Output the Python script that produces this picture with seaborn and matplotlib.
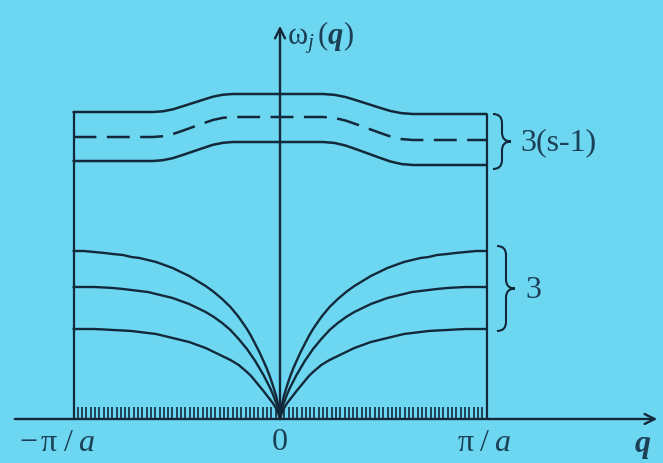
import numpy as np
import pandas as pd
import matplotlib
matplotlib.use("Agg")
import matplotlib.pyplot as plt
import matplotlib.transforms as mtransforms
from matplotlib.path import Path
from matplotlib.patches import PathPatch
import seaborn as sns

# ---------------- data (q in units of pi/a, omega in arbitrary units) ----------------
# acoustic branches, read for q >= 0 (the figure is symmetric about q = 0)
q_acoustic = [0.0, 0.01, 0.02, 0.035, 0.05, 0.065, 0.08, 0.10, 0.12, 0.14, 0.16, 0.20, 0.24, 0.28,
              0.32, 0.36, 0.40, 0.44, 0.48, 0.52, 0.56, 0.60, 0.64, 0.68, 0.72, 0.76, 0.81, 0.85,
              0.90, 0.95, 1.0]
acoustic_top = [0.0, 0.15, 0.24, 0.34, 0.43, 0.51, 0.58, 0.67, 0.75, 0.83, 0.90, 1.02, 1.12, 1.20,
                1.27, 1.33, 1.38, 1.43, 1.47, 1.51, 1.54, 1.57, 1.59, 1.61, 1.62, 1.64, 1.65, 1.66,
                1.67, 1.68, 1.68]
acoustic_mid = [0.0, 0.11, 0.17, 0.25, 0.32, 0.38, 0.44, 0.51, 0.58, 0.64, 0.70, 0.80, 0.89, 0.96,
                1.02, 1.07, 1.11, 1.15, 1.18, 1.21, 1.23, 1.25, 1.27, 1.28, 1.29, 1.30, 1.31, 1.315,
                1.32, 1.32, 1.32]
acoustic_low = [0.0, 0.07, 0.11, 0.16, 0.20, 0.24, 0.28, 0.33, 0.38, 0.43, 0.47, 0.54, 0.59, 0.63,
                0.67, 0.71, 0.74, 0.77, 0.79, 0.81, 0.83, 0.85, 0.86, 0.87, 0.88, 0.885, 0.89, 0.895,
                0.90, 0.90, 0.90]

# optical branches over the whole zone
q_optical = [-1.0, -0.615, -0.567, -0.518, -0.470, -0.4215, -0.373, -0.325, -0.276, -0.228, 0.0,
             0.208, 0.2625, 0.317, 0.3715, 0.426, 0.4805, 0.535, 0.5895, 0.644, 1.0]
optical_top = [3.07, 3.07, 3.077, 3.097, 3.128, 3.16, 3.192, 3.223, 3.243, 3.25, 3.25,
               3.25, 3.242, 3.22, 3.186, 3.15, 3.114, 3.08, 3.058, 3.05, 3.05]
optical_dashed = [2.82, 2.82, 2.828, 2.85, 2.884, 2.92, 2.956, 2.99, 3.012, 3.02, 3.02,
                  3.02, 3.011, 2.985, 2.946, 2.905, 2.864, 2.825, 2.799, 2.79, 2.79]
optical_low = [2.58, 2.58, 2.588, 2.609, 2.641, 2.675, 2.709, 2.742, 2.762, 2.77, 2.77,
               2.77, 2.761, 2.735, 2.696, 2.655, 2.614, 2.575, 2.549, 2.54, 2.54]

n_qpoints = 97          # allowed wave vectors marked on the axis
zone_edges = [-1.0, 1.0]

x_labels = ["$\\mathrm{-\\,\\pi\\;/\\;}\\mathit{a}$", "0", "$\\mathrm{\\pi\\;/\\;}\\mathit{a}$"]
brace_labels = ["3(s-1)", "3"]

# ---------------- style ----------------
BG = "#6dd7f2"
LC = "#13293a"
TC = "#1b4056"
W, H = 663, 464

sns.set_theme(style="white")
plt.rcParams["font.family"] = ["Liberation Serif", "DejaVu Serif"]
plt.rcParams["mathtext.fontset"] = "custom"
plt.rcParams["mathtext.rm"] = "Liberation Serif"
plt.rcParams["mathtext.it"] = "Liberation Serif:italic"
plt.rcParams["mathtext.bf"] = "Liberation Serif:bold:italic"
plt.rcParams["lines.scale_dashes"] = False
plt.rcParams["lines.solid_joinstyle"] = "round"

fig = plt.figure(figsize=(W / 100, H / 100), dpi=100)
fig.patch.set_facecolor(BG)
ax = fig.add_axes([0, 0, 1, 1])
ax.set_facecolor(BG)
ax.set_xlim((0 - 280) / 206.5, (W - 280) / 206.5)
ax.set_ylim((420 - H) / 100, 420 / 100)
ax.set_axis_off()

# pixel transform (origin top-left) for layout items
px = mtransforms.Affine2D().scale(1 / W, -1 / H).translate(0, 1) + fig.transFigure

# acoustic branches (mirror for q < 0)
qa = np.array(q_acoustic)
for vals in (acoustic_top, acoustic_mid, acoustic_low):
    v = np.array(vals)
    xs = np.concatenate([-qa[::-1], qa[1:]])
    ys = np.concatenate([v[::-1], v[1:]])
    df = pd.DataFrame({"q": xs, "w": ys})
    sns.lineplot(data=df, x="q", y="w", ax=ax, color=LC, lw=1.7, sort=False,
                 estimator=None)

# optical branches
for vals, ls in ((optical_top, "-"), (optical_dashed, (0, (16.5, 7.5))), (optical_low, "-")):
    df = pd.DataFrame({"q": q_optical, "w": vals})
    sns.lineplot(data=df, x="q", y="w", ax=ax, color=LC, lw=1.8, sort=False,
                 estimator=None, linestyle=ls)

# zone boundaries
ax.vlines([zone_edges[0]], 0, optical_top[0], color=LC, lw=1.6)
ax.vlines([zone_edges[1]], 0, optical_top[-1], color=LC, lw=1.6)

# allowed q points
ax.vlines(np.linspace(zone_edges[0], zone_edges[1], n_qpoints), 0, 0.12, color=LC, lw=1.2)

# axes arrows
ax.annotate("", xy=((660 - 280) / 206.5, 0), xytext=((12 - 280) / 206.5, 0),
            arrowprops=dict(arrowstyle="->", color=LC, lw=1.7, mutation_scale=18))
ax.annotate("", xy=(0, (420 - 24) / 100), xytext=(0, 0),
            arrowprops=dict(arrowstyle="->", color=LC, lw=1.7, mutation_scale=18))

# braces
def brace(x0, top, bot, w):
    mid = (top + bot) / 2
    xm = x0 + w / 2
    r = w / 2
    verts = [(x0, top), (xm, top), (xm, top + r),
             (xm, mid - r), (xm, mid), (x0 + w, mid),
             (xm, mid), (xm, mid + r),
             (xm, bot - r), (xm, bot), (x0, bot)]
    codes = [Path.MOVETO, Path.CURVE3, Path.CURVE3,
             Path.LINETO, Path.CURVE3, Path.CURVE3,
             Path.CURVE3, Path.CURVE3,
             Path.LINETO, Path.CURVE3, Path.CURVE3]
    ax.add_patch(PathPatch(Path(verts, codes), transform=px, fill=False,
                           edgecolor=LC, lw=1.5))

brace(493, 115, 170, 18)
brace(497, 247, 332, 18)

fs = 23
ax.text(520, 143, brace_labels[0], transform=px, fontsize=fs, color=TC, ha="left", va="center")
ax.text(525, 291, brace_labels[1], transform=px, fontsize=fs, color=TC, ha="left", va="center")

# tick labels
ax.text(57, 444, x_labels[0], transform=px, fontsize=fs, color=TC, ha="center", va="center")
ax.text(280, 443, x_labels[1], transform=px, fontsize=fs, color=TC, ha="center", va="center")
ax.text(484, 444, x_labels[2], transform=px, fontsize=fs, color=TC, ha="center", va="center")
ax.text(643, 447, "$\\mathbf{q}$", transform=px, fontsize=fs, color=TC, ha="center", va="center")

# axis label
ax.text(287, 38, "$\\mathrm{\\omega}_{\\mathit{j}}\\,(\\mathbf{q})$", transform=px,
        fontsize=22, color=TC, ha="left", va="center")

fig.savefig("out.png", dpi=100, facecolor=BG)
